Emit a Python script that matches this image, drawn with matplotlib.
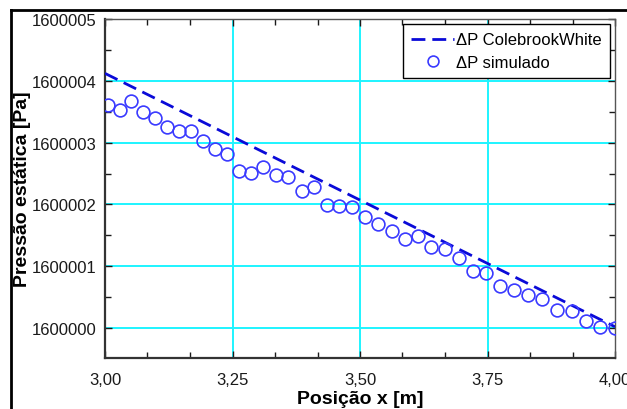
import matplotlib
matplotlib.use("Agg")
import matplotlib.pyplot as plt
from matplotlib.lines import Line2D
from matplotlib.ticker import FixedLocator, MultipleLocator

plt.rcParams['font.family'] = ['Liberation Sans', 'DejaVu Sans']

# Colebrook-White line (endpoints)
cw_x = [3.00, 4.00]
cw_y = [1600004.12, 1600000.02]

# Simulated points
sim_x = [3.005, 3.029, 3.051, 3.074, 3.098, 3.121, 3.145, 3.168, 3.192, 3.215,
         3.239, 3.262, 3.286, 3.309, 3.335, 3.358, 3.386, 3.409, 3.435, 3.458,
         3.484, 3.509, 3.535, 3.562, 3.588, 3.613, 3.639, 3.666, 3.694, 3.721,
         3.747, 3.774, 3.801, 3.829, 3.856, 3.886, 3.915, 3.943, 3.970, 4.000]
sim_dy = [3.61, 3.53, 3.67, 3.50, 3.40, 3.25, 3.19, 3.19, 3.03, 2.90,
          2.82, 2.54, 2.51, 2.61, 2.48, 2.44, 2.22, 2.28, 1.99, 1.97,
          1.96, 1.80, 1.68, 1.57, 1.44, 1.49, 1.31, 1.28, 1.13, 0.92,
          0.89, 0.68, 0.61, 0.53, 0.47, 0.29, 0.27, 0.11, 0.02, 0.00]
base = 1600000
sim_y = [base + d for d in sim_dy]

x_ticks = [3.00, 3.25, 3.50, 3.75, 4.00]
x_ticklabels = ["3,00", "3,25", "3,50", "3,75", "4,00"]
y_ticks = [1600000, 1600001, 1600002, 1600003, 1600004, 1600005]
y_ticklabels = ["1600000", "1600001", "1600002", "1600003", "1600004", "1600005"]

fig = plt.figure(figsize=(6.27, 4.10), dpi=100)
ax = fig.add_axes([105/627, 1 - 359/410, (615 - 105)/627, (359 - 20)/410])

grid_c = '#1ef4ff'
for yv in y_ticks[:-1]:
    ax.axhline(yv, color=grid_c, lw=1.4, zorder=1)
for xv in x_ticks[1:-1]:
    ax.axvline(xv, color=grid_c, lw=1.4, zorder=1)

ax.plot(cw_x, cw_y, linestyle=(0, (5, 2.5)), color='#0a0ad8', lw=2.0,
        label='ΔP ColebrookWhite', zorder=3)
ax.plot(sim_x, sim_y, linestyle='none', marker='o', markersize=9.2,
        markerfacecolor='none', markeredgecolor='#3a3aff', markeredgewidth=1.2,
        label='ΔP simulado', zorder=4)

ax.set_xlim(3.0, 4.0)
ax.set_ylim(1599999.515, 1600005)

ax.xaxis.set_major_locator(FixedLocator(x_ticks))
ax.set_xticklabels(x_ticklabels)
ax.xaxis.set_minor_locator(MultipleLocator(1/12))
ax.yaxis.set_major_locator(FixedLocator(y_ticks))
ax.set_yticklabels(y_ticklabels)
ax.yaxis.set_minor_locator(MultipleLocator(0.5))

ax.tick_params(which='both', direction='in', top=True, right=True,
               labelsize=12, colors='#1a1a1a', pad=6)
ax.tick_params(which='major', length=5, width=1.0)
ax.tick_params(which='minor', length=4, width=1.0)
ax.tick_params(axis='x', pad=10)

for s in ax.spines.values():
    s.set_color('#555555')
    s.set_linewidth(1.0)
ax.spines['left'].set_color('#333333')
ax.spines['left'].set_linewidth(1.6)
ax.spines['bottom'].set_color('#333333')
ax.spines['bottom'].set_linewidth(1.6)

ax.set_xlabel('Posição x [m]', fontsize=14, fontweight='bold', labelpad=2)
ax.set_ylabel('Pressão estática [Pa]', fontsize=14, fontweight='bold')
ax.yaxis.set_label_coords((31 - 105) / 510, 0.5)

leg = ax.legend(loc='upper right', fontsize=12, frameon=True, fancybox=False,
                edgecolor='black', framealpha=1, handlelength=2.6,
                handletextpad=0.1, borderaxespad=0.3, borderpad=0.5,
                labelspacing=0.45, markerscale=0.85)
leg.get_frame().set_linewidth(1.0)

# Outer frame lines of the figure panel
fig.add_artist(Line2D([11/627, 11/627], [0, 1 - 11/410], color='black', lw=2,
                      transform=fig.transFigure))
fig.add_artist(Line2D([11/627, 1], [1 - 11/410, 1 - 11/410], color='black', lw=2,
                      transform=fig.transFigure))

fig.savefig('out.png', dpi=100)
